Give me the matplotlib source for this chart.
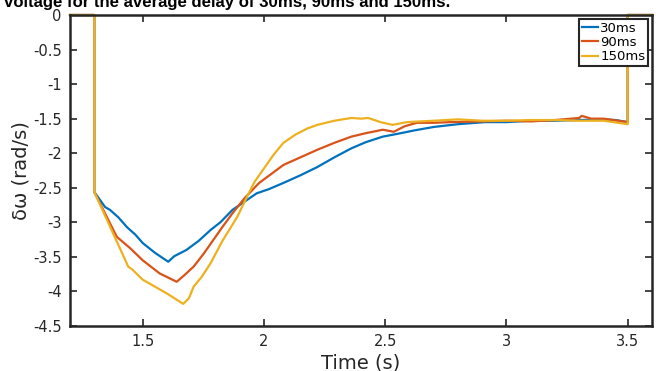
from matplotlib import pyplot as plt
import numpy as np

# angular speed deviation for three average delays
t_30 = [1.2, 1.3, 1.3, 1.345, 1.365, 1.40, 1.435, 1.47, 1.50, 1.55, 1.605, 1.63, 1.68, 1.73, 1.78, 1.82,
        1.87, 1.92, 1.97, 2.02, 2.08, 2.15, 2.22, 2.29, 2.36, 2.42, 2.49, 2.55, 2.62, 2.70, 2.80, 2.91,
        3.0, 3.1, 3.2, 3.3, 3.4, 3.45, 3.5, 3.5, 3.6]
w_30 = [0, 0, -2.56, -2.78, -2.82, -2.93, -3.07, -3.18, -3.30, -3.44, -3.57, -3.49, -3.40, -3.27, -3.11, -3.0,
        -2.82, -2.70, -2.58, -2.52, -2.43, -2.32, -2.20, -2.06, -1.93, -1.84, -1.76, -1.72, -1.67, -1.62, -1.58, -1.55,
        -1.55, -1.53, -1.53, -1.52, -1.51, -1.52, -1.55, 0, 0]

t_90 = [1.2, 1.3, 1.3, 1.393, 1.45, 1.50, 1.57, 1.64, 1.67, 1.71, 1.75, 1.79, 1.83, 1.87, 1.92, 1.98,
        2.03, 2.08, 2.15, 2.22, 2.29, 2.36, 2.42, 2.49, 2.535, 2.58, 2.63, 2.70, 2.77, 2.9, 3.0, 3.1,
        3.2, 3.3, 3.31, 3.35, 3.4, 3.5, 3.5, 3.6]
w_90 = [0, 0, -2.56, -3.21, -3.38, -3.55, -3.74, -3.86, -3.77, -3.64, -3.46, -3.26, -3.06, -2.87, -2.65, -2.43,
        -2.30, -2.17, -2.06, -1.95, -1.85, -1.76, -1.71, -1.66, -1.69, -1.61, -1.56, -1.56, -1.55, -1.54, -1.53, -1.54,
        -1.52, -1.49, -1.46, -1.50, -1.50, -1.55, 0, 0]

t_150 = [1.2, 1.3, 1.3, 1.44, 1.456, 1.50, 1.55, 1.60, 1.667, 1.69, 1.71, 1.745, 1.78, 1.83, 1.89, 1.93,
         1.96, 2.0, 2.04, 2.08, 2.13, 2.18, 2.22, 2.29, 2.36, 2.40, 2.43, 2.48, 2.53, 2.59, 2.7, 2.8,
         2.9, 3.0, 3.1, 3.2, 3.3, 3.4, 3.5, 3.5, 3.6]
w_150 = [0, 0, -2.56, -3.64, -3.68, -3.83, -3.93, -4.03, -4.18, -4.10, -3.93, -3.78, -3.59, -3.26, -2.92, -2.63,
         -2.42, -2.22, -2.02, -1.85, -1.73, -1.64, -1.59, -1.53, -1.49, -1.50, -1.49, -1.55, -1.59, -1.55, -1.53, -1.51,
         -1.53, -1.53, -1.52, -1.52, -1.53, -1.53, -1.58, 0, 0]

labels = ["30ms", "90ms", "150ms"]
colors = ["#0072BD", "#D95319", "#EDB120"]

x_ticks = [1.5, 2, 2.5, 3, 3.5]
y_ticks = np.arange(-4.5, 0.01, 0.5)

########################################################################################################################
fig = plt.figure(figsize=(6.56, 3.71), dpi=100)
ax = fig.add_axes([0.1067, 0.1213, 0.8872, 0.8383])

for t, w, lab, c in zip([t_30, t_90, t_150], [w_30, w_90, w_150], labels, colors):
    ax.plot(t, w, color=c, lw=1.6, label=lab, clip_on=False)

ax.set_xlim(1.2, 3.6)
ax.set_ylim(-4.5, 0)
ax.set_xticks(x_ticks)
ax.set_xticklabels([f"{v:g}" for v in x_ticks])
ax.set_yticks(y_ticks)
ax.set_yticklabels([f"{v:g}" for v in y_ticks])

ax.tick_params(direction="in", length=5, width=1.2, top=True, right=True, labelsize=10.5,
               colors="#262626", pad=6)
for sp in ax.spines.values():
    sp.set_linewidth(1.8)
    sp.set_color("#262626")

ax.set_xlabel("Time (s)", fontsize=14, color="#262626", labelpad=3)
ax.set_ylabel("δω (rad/s)", fontsize=14, color="#262626", labelpad=2)

leg = ax.legend(loc="upper right", fontsize=9.5, handlelength=1.2, handletextpad=0.2,
                borderpad=0.2, labelspacing=0.1, borderaxespad=0.3, fancybox=False, framealpha=1)
leg.get_frame().set_edgecolor("#262626")
leg.get_frame().set_linewidth(1.5)

# caption line from the page above, cut by the crop as in the source
fig.text(0.006, 1 - 7 / 371, "voltage for the average delay of 30ms, 90ms and 150ms.",
         fontsize=12.1, fontweight="bold", family="Liberation Sans", va="baseline")

plt.savefig("out.png", dpi=100)
plt.close()
